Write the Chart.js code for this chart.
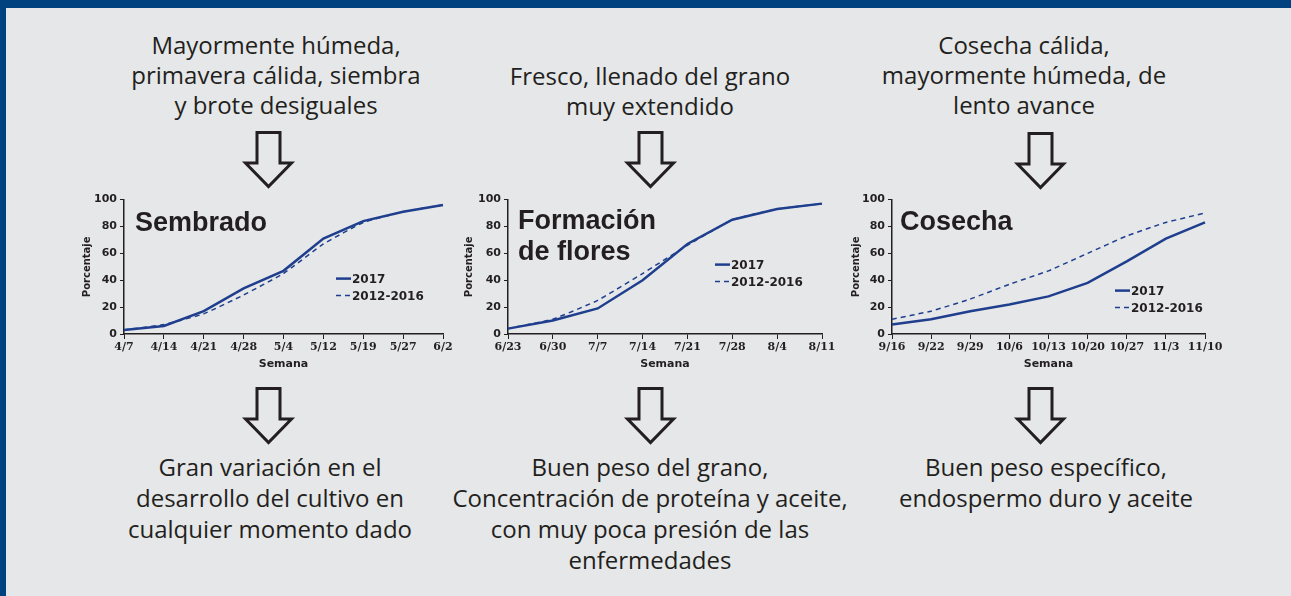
<!DOCTYPE html>
<html lang="es">
<head>
<meta charset="utf-8">
<script src="https://cdn.jsdelivr.net/npm/chart.js@4.4.1/dist/chart.umd.min.js"></script>
<style>
  html { overflow: hidden; }
  body { margin: 0; width: 1291px; height: 596px; background: #e6e7e8; position: relative; overflow: hidden;
         font-family: "Open Sans", sans-serif; color: #231f20; }
  .franja { position: absolute; left: 0; top: 0; width: 1291px; height: 8px; background: #00427f; }
  .borde { position: absolute; left: 0; top: 0; width: 6px; height: 596px; background: #00427f; }
  .txt { position: absolute; width: 420px; text-align: center; font-size: 24px; line-height: 30px; }
  .abajo { line-height: 31px; }
  canvas { position: absolute; }
  svg.flecha { position: absolute; overflow: visible; }
</style>
</head>
<body>
<div class="franja"></div>
<div class="borde"></div>

<div class="txt" style="left:66px;top:30px">Mayormente húmeda,<br>primavera cálida, siembra<br>y brote desiguales</div>
<div class="txt" style="left:440px;top:61px">Fresco, llenado del grano<br>muy extendido</div>
<div class="txt" style="left:814px;top:30px">Cosecha cálida,<br>mayormente húmeda, de<br>lento avance</div>

<canvas id="c1" width="385" height="184" style="left:78px;top:190px"></canvas>
<canvas id="c2" width="384" height="184" style="left:460px;top:190px"></canvas>
<canvas id="c3" width="382" height="184" style="left:847px;top:190px"></canvas>

<div class="txt abajo" style="left:60px;top:451px">Gran variación en el<br>desarrollo del cultivo en<br>cualquier momento dado</div>
<div class="txt abajo" style="left:440px;top:451px">Buen peso del grano,<br>Concentración de proteína y aceite,<br>con muy poca presión de las<br>enfermedades</div>
<div class="txt abajo" style="left:836px;top:451px">Buen peso específico,<br>endospermo duro y aceite</div>

<script>
// eje vertical común
const ticksY = [0, 20, 40, 60, 80, 100];

// Sembrado
const semanasSiembra = ['4/7', '4/14', '4/21', '4/28', '5/4', '5/12', '5/19', '5/27', '6/2'];
const siembra2017 = [3, 6, 17, 34, 47, 71, 84, 91, 96];
const siembraProm = [3, 7, 15, 29, 45, 67, 83, 91, 96];

// Formación de flores
const semanasFlor = ['6/23', '6/30', '7/7', '7/14', '7/21', '7/28', '8/4', '8/11'];
const flor2017 = [4, 10, 19, 40, 67, 85, 93, 97];
const florProm = [4, 11, 25, 45, 66, 85, 93, 97];

// Cosecha
const semanasCosecha = ['9/16', '9/22', '9/29', '10/6', '10/13', '10/20', '10/27', '11/3', '11/10'];
const cosecha2017 = [7, 11, 17, 22, 28, 38, 54, 71, 83];
const cosechaProm = [11, 17, 26, 37, 47, 60, 73, 83, 90];

const etiquetas = ['2017', '2012-2016'];

const azul = '#1f3f8e';
const tinta = '#231f20';

// flechas huecas hacia abajo
const flechas = [[244, 131], [626, 131], [1016, 132], [244, 387], [626, 387], [1016, 387]];
flechas.forEach(([x, y]) => {
  const svg = document.createElementNS('http://www.w3.org/2000/svg', 'svg');
  svg.setAttribute('class', 'flecha');
  svg.setAttribute('width', 49);
  svg.setAttribute('height', 57);
  svg.style.left = x + 'px';
  svg.style.top = y + 'px';
  svg.innerHTML = '<path d="M13,1.5 H36 V32 H47.5 L24.5,55.5 L1.5,32 H13 Z" fill="none" stroke="' + tinta + '" stroke-width="3" stroke-linejoin="miter"/>';
  document.body.appendChild(svg);
});

// título grande y leyenda dentro del área del gráfico
const rotulos = {
  id: 'rotulos',
  afterDatasetsDraw(chart, args, opts) {
    const { ctx, chartArea } = chart;
    ctx.save();
    ctx.fillStyle = tinta;
    ctx.font = 'bold 27px "Liberation Sans"';
    ctx.textBaseline = 'alphabetic';
    opts.titulo.forEach((t, i) => {
      ctx.fillText(t, chartArea.left + opts.tx, chartArea.top + opts.ty + i * 31);
    });
    ctx.font = 'bold 12px "DejaVu Sans"';
    ctx.textBaseline = 'middle';
    chart.data.datasets.forEach((ds, i) => {
      const x = chartArea.left + opts.lx;
      const y = chartArea.top + opts.ly + i * 17;
      ctx.strokeStyle = ds.borderColor;
      ctx.lineWidth = ds.borderWidth;
      ctx.setLineDash(ds.borderDash || []);
      ctx.beginPath();
      ctx.moveTo(x, y);
      ctx.lineTo(x + 15, y);
      ctx.stroke();
      ctx.setLineDash([]);
      ctx.fillText(ds.label, x + 16, y + 1);
    });
    ctx.restore();
  }
};

function grafico(id, semanas, serie2017, serieProm, ancho, pad, rot) {
  return new Chart(document.getElementById(id), {
    type: 'line',
    data: {
      labels: semanas,
      datasets: [
        { label: etiquetas[0], data: serie2017, borderColor: azul, borderWidth: 2.5, pointRadius: 0, tension: 0 },
        { label: etiquetas[1], data: serieProm, borderColor: azul, borderWidth: 1.5, borderDash: [5, 4], pointRadius: 0, tension: 0.1 }
      ]
    },
    options: {
      responsive: false,
      animation: false,
      devicePixelRatio: 1,
      layout: { padding: pad },
      plugins: { legend: { display: false }, tooltip: { enabled: false }, rotulos: rot },
      scales: {
        x: {
          offset: false,
          grid: { drawOnChartArea: false, tickLength: 5, color: tinta, lineWidth: 1 },
          border: { color: tinta, width: 1.5 },
          ticks: { color: tinta, font: { family: 'DejaVu Serif', weight: 'bold', size: 11 }, padding: 2,
                   autoSkip: false, maxRotation: 0 },
          title: { display: true, text: 'Semana', color: tinta, padding: { top: 1, bottom: 3 },
                   font: { family: 'DejaVu Sans', weight: 'bold', size: 11 } },
          afterFit(scale) { scale.height = 40; }
        },
        y: {
          min: 0, max: 100,
          afterBuildTicks(scale) { scale.ticks = ticksY.map(v => ({ value: v })); },
          grid: { drawOnChartArea: false, tickLength: 4, color: tinta, lineWidth: 1 },
          border: { color: tinta, width: 1.5 },
          ticks: { color: tinta, font: { family: 'DejaVu Sans', weight: 'bold', size: 11 }, padding: 3 },
          title: { display: true, text: 'Porcentaje', color: tinta, padding: { top: 3, bottom: 2 },
                   font: { family: 'DejaVu Sans', weight: 'bold', size: 10 } },
          afterFit(scale) { scale.width = ancho; }
        }
      }
    },
    plugins: [rotulos]
  });
}

grafico('c1', semanasSiembra, siembra2017, siembraProm, 46,
  { top: 7, right: 20, bottom: 0, left: 0 },
  { titulo: ['Sembrado'], tx: 11, ty: 31, lx: 212, ly: 79 });
grafico('c2', semanasFlor, flor2017, florProm, 48,
  { top: 8, right: 22, bottom: 0, left: 0 },
  { titulo: ['Formación', 'de flores'], tx: 10, ty: 29, lx: 207, ly: 65 });
grafico('c3', semanasCosecha, cosecha2017, cosechaProm, 45,
  { top: 8, right: 24, bottom: 0, left: 0 },
  { titulo: ['Cosecha'], tx: 8, ty: 30, lx: 223, ly: 91 });
</script>
</body>
</html>
